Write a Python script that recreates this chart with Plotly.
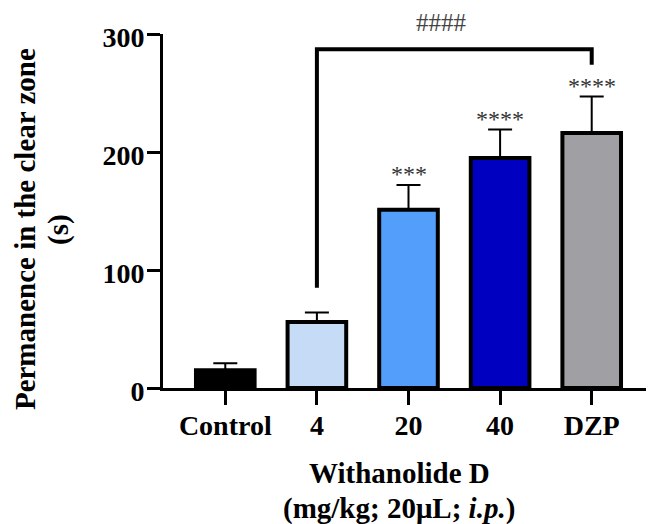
import plotly.graph_objects as go

categories = ["Control", "4", "20", "40", "DZP"]
means = [15, 56, 151, 195, 216]
errors = [6, 8, 21, 24, 31]
bar_colors = ["#000000", "#C6DCF6", "#529EFA", "#0000C0", "#A0A0A4"]
stars = ["", "", "***", "****", "****"]
y_ticks = [0, 100, 200, 300]
bracket_left = 85
bracket_top = 287
bracket_right = 274
hash_label = "####"

FONT = "Liberation Serif, Times New Roman, serif"
xs = list(range(len(categories)))

fig = go.Figure()
fig.add_trace(go.Bar(
    x=xs, y=means, width=0.64,
    marker=dict(color=bar_colors, line=dict(color="black", width=4)),
    error_y=dict(type="data", array=errors, arrayminus=[0]*len(errors),
                 color="black", thickness=2, width=12, symmetric=False),
    showlegend=False,
))

for x, m, e, s in zip(xs, means, errors, stars):
    if s:
        fig.add_annotation(x=x, y=m + e, text=s, showarrow=False, yanchor="bottom",
                           yshift=-4, font=dict(family=FONT, size=24, color="#333333"))

fig.add_shape(type="path", xref="x", yref="y",
              path=f"M 1 {bracket_left} L 1 {bracket_top} L 4 {bracket_top} L 4 {bracket_right}",
              line=dict(color="black", width=4))
fig.add_annotation(x=2.36, y=bracket_top, text=hash_label, showarrow=False, yanchor="bottom",
                   yshift=11, font=dict(family=FONT, size=25, color="#444444"))

# axis titles (placed as annotations for exact positioning)
fig.add_annotation(xref="paper", yref="paper", x=-0.281, y=0.449, xanchor="center", yanchor="middle",
                   textangle=-90, text="<b>Permanence in the clear zone</b>", showarrow=False,
                   font=dict(family=FONT, size=29, color="black"))
fig.add_annotation(xref="paper", yref="paper", x=-0.214, y=0.449, xanchor="center", yanchor="middle",
                   textangle=-90, text="<b>(s)</b>", showarrow=False,
                   font=dict(family=FONT, size=29, color="black"))
fig.add_annotation(xref="paper", yref="paper", x=0.4807, y=-0.240, xanchor="center", yanchor="middle",
                   text="<b>Withanolide D</b>", showarrow=False,
                   font=dict(family=FONT, size=29, color="black"))
fig.add_annotation(xref="paper", yref="paper", x=0.4807, y=-0.339, xanchor="center", yanchor="middle",
                   text="<b>(mg/kg; 20μL; <i>i.p.</i>)</b>", showarrow=False,
                   font=dict(family=FONT, size=29, color="black"))

fig.update_layout(
    width=646, height=516,
    margin=dict(l=155, r=0, t=26, b=136),
    plot_bgcolor="white", paper_bgcolor="white",
    font=dict(family=FONT, size=28, color="black"),
)
fig.update_xaxes(range=[-0.68, 4.68], tickvals=xs, ticktext=[f"<b>{c}</b>" for c in categories],
                 showline=True, linecolor="black", linewidth=3,
                 ticks="outside", ticklen=14, tickwidth=3, tickcolor="black",
                 ticklabelstandoff=-4,
                 showgrid=False, zeroline=False, fixedrange=True)
fig.update_yaxes(range=[0, 300], tickvals=y_ticks, ticktext=[f"<b>{v}</b>" for v in y_ticks],
                 showline=True, linecolor="black", linewidth=3,
                 ticks="outside", ticklen=13, tickwidth=3, tickcolor="black",
                 ticklabelstandoff=-3, ticklabelshift=3,
                 showgrid=False, zeroline=False, fixedrange=True)

fig.write_html("out.html")
